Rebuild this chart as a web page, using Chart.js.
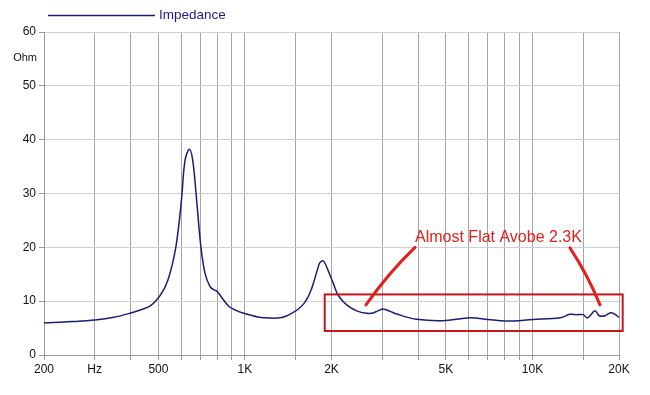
<!DOCTYPE html>
<html><head><meta charset="utf-8">
<script src="https://cdn.jsdelivr.net/npm/chart.js@4"></script>
<style>html,body{margin:0;padding:0;background:#fff}#wrap{width:650px;height:395px}</style>
</head><body><div id="wrap"><canvas id="c" width="650" height="395"></canvas></div>
<script>
const freqs = [200,250,301,350,404,440,467,493,520,540,557,574,590,603,619,641,658,676,690,703,726,756,780,801,840,880,930,984,1110,1222,1324,1400,1472,1530,1600,1650,1690,1729,1790,1820,1864,1900,1960,2029,2111,2258,2448,2650,2789,2900,3028,3200,3373,3958,4884,6062,7000,8136,10040,12470,13506,14252,15020,15560,16500,17080,17880,18710,19370,20000];
const ohms  = [5.95,6.2,6.5,7.0,7.86,8.5,9.1,10.2,12.0,14.0,16.5,19.8,24.5,29.5,36.2,38.2,36.2,30,24.5,20,15.2,12.7,12.1,11.8,10.3,9.0,8.3,7.8,7.06,6.85,6.9,7.3,7.9,8.5,9.5,10.6,11.8,13.3,16.0,17.1,17.5,17.0,15.3,13.3,11.1,9.3,8.2,7.75,7.8,8.2,8.55,8.1,7.6,6.63,6.37,6.93,6.6,6.3,6.6,6.9,7.55,7.5,7.5,6.9,8.2,7.3,7.3,7.85,7.55,7.0];
const gridFreqs = [200,300,400,500,600,700,800,900,1000,1500,2000,3000,4000,5000,6000,7000,8000,9000,10000,15000,20000];
const xLabels = {200:'200',300:'Hz',500:'500',1000:'1K',2000:'2K',5000:'5K',10000:'10K',20000:'20K'};
const yTicks = [0,10,20,30,40,50,60];
const seriesName = 'Impedance';
const yUnit = 'Ohm';
const noteText = 'Almost Flat Avobe 2.3K';
const boxFreq = [1894, 20600];
const boxOhm = [4.46, 11.25];
const noteAt = [3904, 21.9];
const arrow1 = [[3904,20.0],[3150,15.2],[2636,9.3]];
const arrow2 = [[13506,19.9],[15600,14.8],[17180,9.3]];

const annot = {
  id:'annot',
  afterDraw(chart){
    const c = chart.ctx, xs = chart.scales.x, ys = chart.scales.y;
    const px = f=>xs.getPixelForValue(f), py = v=>ys.getPixelForValue(v);
    c.save();
    c.strokeStyle='#1c1c7a'; c.lineWidth=1.5;
    c.beginPath(); c.moveTo(48,15.5); c.lineTo(155,15.5); c.stroke();
    c.fillStyle='#1c1c8c'; c.font='13.5px "Liberation Sans", Arial, sans-serif';
    c.textBaseline='middle'; c.textAlign='left';
    c.fillText(seriesName,159,15);
    c.fillStyle='#111'; c.font='11px "Liberation Sans", Arial, sans-serif';
    c.textAlign='right'; c.fillText(yUnit,37,58);
    c.strokeStyle='#c4161c'; c.lineWidth=2;
    c.strokeRect(px(boxFreq[0]), py(boxOhm[1]), px(boxFreq[1])-px(boxFreq[0]), py(boxOhm[0])-py(boxOhm[1]));
    c.strokeStyle='#e3201b'; c.lineWidth=3; c.lineCap='round';
    [arrow1,arrow2].forEach(a=>{
      c.beginPath(); c.moveTo(px(a[0][0]),py(a[0][1]));
      c.quadraticCurveTo(px(a[1][0]),py(a[1][1]),px(a[2][0]),py(a[2][1])); c.stroke();
    });
    c.fillStyle='#e3201b'; c.font='16px "Liberation Sans", Arial, sans-serif';
    c.textAlign='left'; c.textBaseline='middle';
    c.fillText(noteText, px(noteAt[0]), py(noteAt[1]));
    c.restore();
  }
};

new Chart(document.getElementById('c'),{
  type:'line',
  data:{datasets:[{label:seriesName,data:freqs.map((f,i)=>({x:f,y:ohms[i]})),borderColor:'#1c1c7a',borderWidth:1.5,pointRadius:0,tension:0.35,fill:false}]},
  options:{
    responsive:false,animation:false,
    layout:{padding:{top:32,right:31,left:0,bottom:0}},
    plugins:{legend:{display:false},tooltip:{enabled:false}},
    scales:{
      x:{type:'logarithmic',min:200,max:20000,
        afterBuildTicks(s){s.ticks=gridFreqs.map(v=>({value:v}));},
        afterFit(s){s.height=40;},
        ticks:{autoSkip:false,maxRotation:0,minRotation:0,padding:2,color:'#111',font:{size:12,family:'"Liberation Sans", Arial, sans-serif'},callback:v=>xLabels[v]||''},
        grid:{color:'#a6a6a6',lineWidth:1,tickLength:5,tickColor:'#999'},
        border:{color:'#999'}
      },
      y:{min:0,max:60,
        afterBuildTicks(s){s.ticks=yTicks.map(v=>({value:v}));},
        afterFit(s){s.width=44;},
        ticks:{padding:3,color:'#111',font:{size:12,family:'"Liberation Sans", Arial, sans-serif'}},
        grid:{color:'#cfcfcf',lineWidth:1,tickLength:5,tickColor:'#999'},
        border:{color:'#999'}
      }
    }
  },
  plugins:[annot]
});
</script></body></html>
